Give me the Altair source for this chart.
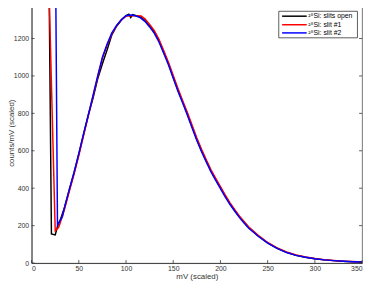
import altair as alt
import pandas as pd

# ---- data ----
open_mv = [18.5, 21, 25, 28, 30, 35, 40, 45, 50, 55, 60, 65, 70, 75, 80, 85, 90, 95, 100, 103, 105, 107, 110,
           115, 120, 125, 130, 135, 140, 145, 150, 155, 160, 165, 170, 175, 180, 185, 190, 195, 200, 205, 210,
           215, 220, 225, 230, 240, 250, 260, 270, 280, 290, 300, 310, 320, 330, 340, 350]
open_counts = [1500, 155, 150, 205, 225, 300, 392, 483, 583, 688, 790, 880, 985, 1065, 1140, 1220, 1266, 1298, 1323,
               1330, 1312, 1328, 1323, 1315, 1298, 1268, 1235, 1188, 1128, 1065, 995, 925, 861, 797, 729, 661, 601,
               546, 492, 447, 403, 359, 318, 282, 248, 218, 190, 145, 108, 79, 57, 42, 31, 23, 17, 13, 10, 7, 5]

slit1_mv = [18.5, 25, 28.5, 30, 35, 40, 45, 50, 55, 60, 65, 70, 75, 80, 85, 90, 95, 100, 105, 110, 116,
            120, 125, 130, 135, 140, 145, 150, 155, 160, 165, 170, 175, 180, 185, 190, 195, 200, 205, 210,
            215, 220, 225, 230, 240, 250, 260, 270, 280, 290, 300, 310, 320, 330, 340, 350]
slit1_counts = [1450, 172, 190, 210, 290, 385, 475, 575, 680, 785, 890, 995, 1095, 1165, 1225, 1268, 1300, 1320,
                1322, 1322, 1321, 1305, 1275, 1242, 1195, 1135, 1072, 1002, 933, 868, 805, 736, 668, 608, 552,
                498, 452, 408, 364, 323, 287, 252, 222, 193, 148, 110, 81, 59, 43, 32, 24, 18, 14, 10, 8, 6]

slit2_mv = [25.6, 27.4, 30, 32.6, 35, 40, 45, 50, 55, 60, 65, 70, 75, 80, 85, 90, 95, 100, 105, 110, 115,
            120, 125, 130, 135, 140, 145, 150, 155, 160, 165, 170, 175, 180, 185, 190, 195, 200, 205, 210,
            215, 220, 225, 230, 240, 250, 260, 270, 280, 290, 300, 310, 320, 330, 340, 350]
slit2_counts = [1450, 203, 225, 248, 300, 395, 485, 585, 690, 790, 895, 1000, 1100, 1170, 1230, 1270, 1300, 1322,
                1326, 1322, 1312, 1292, 1262, 1228, 1180, 1120, 1058, 988, 918, 855, 790, 722, 655, 595, 540,
                487, 442, 398, 354, 314, 278, 244, 214, 186, 143, 106, 78, 56, 41, 31, 23, 17, 13, 10, 7, 5]

series_labels = ["²⁸Si: slits open", "²⁸Si: slit #1", "²⁸Si: slit #2"]
series_colors = ["#000000", "#ff0000", "#0000ff"]
x_ticks = [0, 50, 100, 150, 200, 250, 300, 350]
y_ticks = [0, 200, 400, 600, 800, 1000, 1200]

W, H = 336, 265
FONT = "Liberation Sans"
xs = alt.Scale(domain=[0, 350], nice=False, zero=False)
ys = alt.Scale(domain=[0, 1393], nice=False, zero=False)
x_axis = alt.Axis(values=x_ticks, format="d", ticks=False, labelPadding=2, title="mV (scaled)",
                  titlePadding=1, grid=False)
y_axis = alt.Axis(values=y_ticks, format="d", ticks=False, labelPadding=3, title="counts/mV (scaled)",
                  titleX=-16, titleY=H / 2, titleAlign="center", titleBaseline="bottom", grid=False)

series_data = [(open_mv, open_counts), (slit1_mv, slit1_counts), (slit2_mv, slit2_counts)]

layers = []
for (mv, cnt), lab, col in zip(series_data, series_labels, series_colors):
    df = pd.DataFrame({"mv": mv, "counts": cnt})
    layers.append(alt.Chart(df).mark_line(color=col, strokeWidth=1.5, clip=True).encode(
        x=alt.X("mv:Q", scale=xs, axis=x_axis), y=alt.Y("counts:Q", scale=ys, axis=y_axis)))

# inward tick marks
xt = pd.DataFrame({"mv": x_ticks})
yt = pd.DataFrame({"counts": y_ticks})
tick_style = dict(color="#333333", strokeWidth=0.8)
layers.append(alt.Chart(xt).mark_rule(**tick_style).encode(
    x=alt.X("mv:Q", scale=xs, axis=x_axis), y=alt.value(H), y2=alt.value(H - 3)))
layers.append(alt.Chart(xt).mark_rule(**tick_style).encode(
    x=alt.X("mv:Q", scale=xs, axis=x_axis), y=alt.value(0), y2=alt.value(3)))
layers.append(alt.Chart(yt).mark_rule(**tick_style).encode(
    y=alt.Y("counts:Q", scale=ys, axis=y_axis), x=alt.value(0), x2=alt.value(3)))
layers.append(alt.Chart(yt).mark_rule(**tick_style).encode(
    y=alt.Y("counts:Q", scale=ys, axis=y_axis), x=alt.value(W), x2=alt.value(W - 3)))

# legend box
leg_df = pd.DataFrame({"label": series_labels, "color": series_colors})
layers.append(alt.Chart(leg_df.head(1)).mark_rect(fill="white", stroke="#333333", strokeWidth=0.8).encode(
    x=alt.value(251.3), x2=alt.value(331.3), y=alt.value(9), y2=alt.value(36)))
row_y = [14, 22.7, 31]
for lab, col, ry in zip(series_labels, series_colors, row_y):
    d = pd.DataFrame({"label": [lab]})
    layers.append(alt.Chart(d).mark_rule(color=col, strokeWidth=1.5).encode(
        x=alt.value(254.7), x2=alt.value(279.7), y=alt.value(ry)))
    layers.append(alt.Chart(d).mark_text(align="left", baseline="middle", font=FONT, fontSize=7,
                                         color="#000000").encode(
        x=alt.value(281.3), y=alt.value(ry), text="label:N"))

chart = alt.layer(*layers).properties(
    width=W, height=H,
    autosize=alt.AutoSizeParams(type="none"),
    padding={"left": 24, "top": -8, "right": 4, "bottom": 20},
).configure_view(stroke="#555555", strokeWidth=0.8).configure_axis(
    labelFont=FONT, titleFont=FONT, labelFontSize=7, titleFontSize=8,
    labelColor="#333333", titleColor="#333333", titleFontWeight="normal",
    domainColor="#333333", domainWidth=0.8,
)

chart.save("out.html", embed_options={"renderer": "svg", "actions": False})
